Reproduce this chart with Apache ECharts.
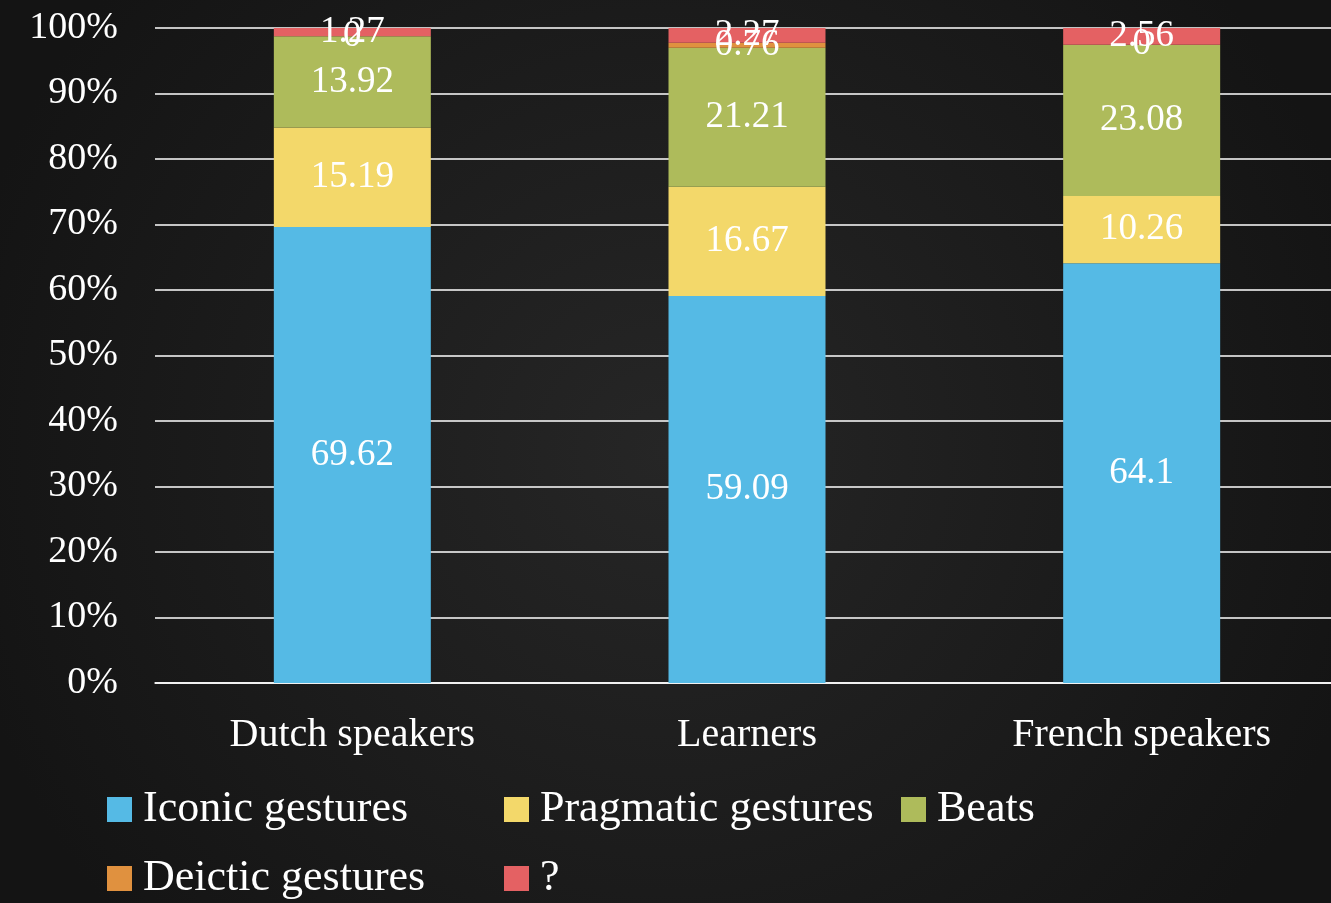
<!DOCTYPE html>
<html>
<head>
<meta charset="utf-8">
<script src="https://cdn.jsdelivr.net/npm/echarts@6/dist/echarts.min.js"></script>
<style>
  html, body { margin: 0; padding: 0; background: #1d1d1d; }
  #chart { width: 1331px; height: 903px; }
</style>
</head>
<body>
<div id="chart"></div>
<script>
var categories = ['Dutch speakers', 'Learners', 'French speakers'];
var iconic = [69.62, 59.09, 64.1];
var pragmatic = [15.19, 16.67, 10.26];
var beats = [13.92, 21.21, 23.08];
var deictic = [0, 0.76, 0];
var unknown = [1.27, 2.27, 2.56];
var yTicks = [0, 10, 20, 30, 40, 50, 60, 70, 80, 90, 100];

var FONT = '"Liberation Serif", "DejaVu Serif", serif';

function makeSeries(name, data, color) {
  return {
    name: name,
    type: 'bar',
    stack: 'total',
    barWidth: 157,
    data: data,
    itemStyle: { color: color },
    label: {
      show: true,
      position: 'inside',
      color: '#ffffff',
      fontFamily: FONT,
      fontSize: 37,
      formatter: function (p) { return String(p.value); }
    }
  };
}

var chart = echarts.init(document.getElementById('chart'));
chart.setOption({
  backgroundColor: {
    type: 'radial', x: 0.5, y: 0.5, r: 0.8,
    colorStops: [{ offset: 0, color: '#262626' }, { offset: 1, color: '#141414' }]
  },
  animation: false,
  grid: { left: 155, width: 1184, top: 28, bottom: 220, outerBoundsMode: 'none' },
  xAxis: {
    type: 'category',
    data: categories,
    axisLine: { lineStyle: { color: '#ffffff', width: 1.5 } },
    axisTick: { show: false },
    axisLabel: { color: '#ffffff', fontFamily: FONT, fontSize: 40, margin: 32 }
  },
  yAxis: {
    type: 'value',
    min: 0,
    max: 100,
    interval: 10,
    axisLine: { show: false },
    axisTick: { show: false },
    splitLine: { lineStyle: { color: '#ffffff', width: 1.5 } },
    axisLabel: {
      color: '#ffffff', fontFamily: FONT, fontSize: 38, margin: 37,
      formatter: function (v) { return yTicks.indexOf(v) >= 0 ? v + '%' : ''; }
    }
  },
  legend: {
    left: 107,
    top: 785,
    width: 1220,
    padding: 0,
    itemWidth: 25,
    itemHeight: 25,
    itemGap: 20,
    icon: 'rect',
    textStyle: {
      color: '#ffffff', fontFamily: FONT, fontSize: 44,
      width: 341, lineHeight: 49, overflow: 'truncate',
      padding: [0, 0, 0, 6]
    },
    data: ['Iconic gestures', 'Pragmatic gestures', 'Beats', 'Deictic gestures', '?']
  },
  series: [
    makeSeries('Iconic gestures', iconic, '#55bae5'),
    makeSeries('Pragmatic gestures', pragmatic, '#f3d86a'),
    makeSeries('Beats', beats, '#aebb5b'),
    makeSeries('Deictic gestures', deictic, '#e0913f'),
    makeSeries('?', unknown, '#e46163')
  ]
});
</script>
</body>
</html>
